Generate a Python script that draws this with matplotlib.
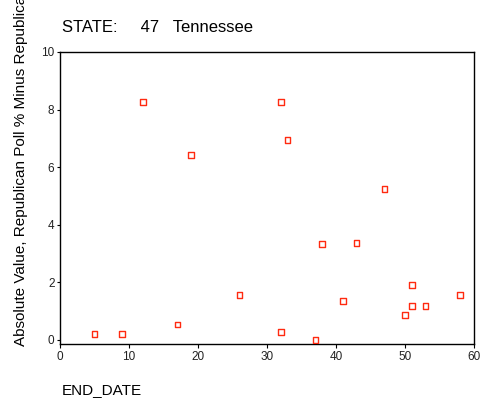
import matplotlib
matplotlib.use("Agg")
import matplotlib.pyplot as plt

plt.rcParams['font.family'] = ['Liberation Sans', 'DejaVu Sans']

# data
end_date = [5, 9, 12, 17, 19, 26, 32, 32, 33, 37, 38, 41, 43, 47, 50, 51, 51, 53, 58]
abs_diff = [0.21, 0.21, 8.26, 0.54, 6.42, 1.56, 8.26, 0.28, 6.94, 0.0, 3.33,
            1.35, 3.37, 5.24, 0.87, 1.91, 1.18, 1.18, 1.56]

title = "STATE:     47   Tennessee"
ylab = "Absolute Value, Republican Poll % Minus Republican Vote %"
xlab = "END_DATE"

fig = plt.figure(figsize=(4.83, 4.04), dpi=100)
W, H = 483, 404
ax = fig.add_axes([60 / W, 1 - 344 / H, (474 - 60) / W, (344 - 52) / H])

ax.scatter(end_date, abs_diff, marker='s', s=16, facecolors='none',
           edgecolors='#ff2a10', linewidths=1.0, zorder=3)

ax.set_xlim(0, 60)
ax.set_ylim(-0.14, 10)
ax.set_xticks([0, 10, 20, 30, 40, 50, 60])
ax.set_yticks([0, 2, 4, 6, 8, 10])
ax.tick_params(axis='both', labelsize=8.5, length=3, width=0.8, pad=2,
               labelcolor='#222222')
ax.tick_params(axis='y', length=2)
for s in ax.spines.values():
    s.set_linewidth(1.0)

fig.text(62 / W, 1 - 28 / H, title, fontsize=12, ha='left', va='center')
fig.text(62 / W, 1 - 390 / H, xlab, fontsize=11, ha='left', va='center')
# the reference clips this label at the top edge
fig.text(21 / W, 1 - 346 / H, ylab, fontsize=11, rotation=90,
         ha='center', va='bottom')

fig.savefig("out.png", dpi=100)
